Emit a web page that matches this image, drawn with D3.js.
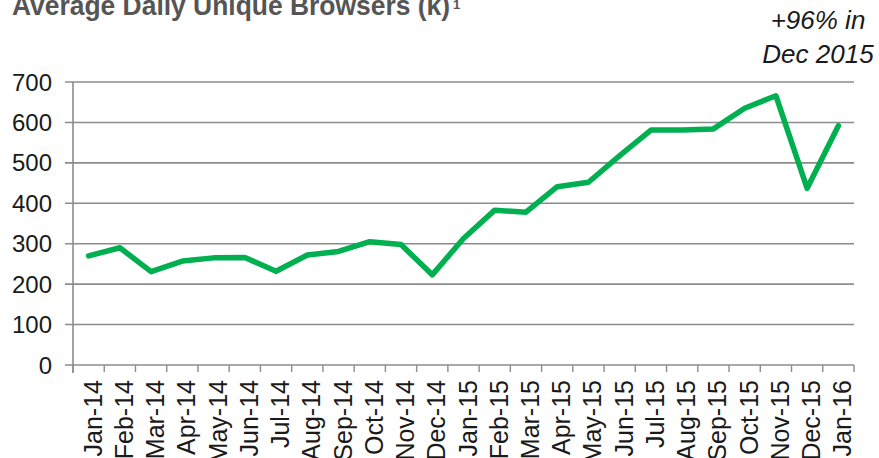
<!DOCTYPE html>
<html><head><meta charset="utf-8">
<script src="https://cdn.jsdelivr.net/npm/d3@7"></script>
<style>
body{margin:0;background:#fff;}
svg{display:block;font-family:"Liberation Sans",Arial,sans-serif;}
</style></head>
<body><svg id="c" width="879" height="458"></svg>
<script>
const months = ["Jan-14","Feb-14","Mar-14","Apr-14","May-14","Jun-14","Jul-14","Aug-14","Sep-14","Oct-14","Nov-14","Dec-14",
"Jan-15","Feb-15","Mar-15","Apr-15","May-15","Jun-15","Jul-15","Aug-15","Sep-15","Oct-15","Nov-15","Dec-15","Jan-16"];
const browsers = [270,290,231,257,265,266,232,272,281,305,298,223,313,383,378,441,452,518,581,581,584,635,666,437,592];
const yTicks = [0,100,200,300,400,500,600,700];
const titleText = "Average Daily Unique Browsers (k)";
const noteLines = ["+96% in","Dec 2015"];

(function(){
const svg = d3.select("#c");
const mL = 73, mR = 854, mT = 82, mB = 365;
const x = d3.scaleBand().domain(months).range([mL, mR]);
const y = d3.scaleLinear().domain([0,700]).range([mB, mT]);

// gridlines
svg.append("g").selectAll("line").data(yTicks).join("line")
  .attr("x1", mL-8).attr("x2", mR)
  .attr("y1", d=>y(d)).attr("y2", d=>y(d))
  .attr("stroke", "#8c8c8c").attr("stroke-width", 1.6);

// y axis labels
svg.append("g").selectAll("text").data(yTicks).join("text")
  .attr("x", 52).attr("y", d=>y(d)).attr("dy","0.36em")
  .attr("text-anchor","end").attr("font-size", 24).attr("fill","#1a1a1a")
  .text(d=>d);

// y axis line
svg.append("line").attr("x1", mL).attr("x2", mL).attr("y1", mT).attr("y2", mB+8)
  .attr("stroke","#8c8c8c").attr("stroke-width",1.6);

// x ticks at band boundaries
const bounds = months.map(m=>x(m)).concat([mR]);
svg.append("g").selectAll("line").data(bounds).join("line")
  .attr("x1", d=>d).attr("x2", d=>d).attr("y1", mB).attr("y2", mB+7)
  .attr("stroke","#8c8c8c").attr("stroke-width",1.4);

// x labels
svg.append("g").selectAll("text").data(months).join("text")
  .attr("transform", d=>`translate(${x(d)+x.bandwidth()/2},380) rotate(-90)`)
  .attr("dy",13).attr("text-anchor","end")
  .attr("font-size", 25).attr("fill","#1a1a1a")
  .text(d=>d);

// line
const line = d3.line().x((d,i)=>x(months[i])+x.bandwidth()/2).y(d=>y(d));
svg.append("path").datum(browsers).attr("d", line)
  .attr("fill","none").attr("stroke","#00b050").attr("stroke-width",5.5)
  .attr("stroke-linejoin","round").attr("stroke-linecap","round");

// title
svg.append("text").attr("x", 12).attr("y", 15)
  .attr("font-size", 27).attr("font-weight","bold").attr("fill","#555555")
  .attr("textLength", 438).attr("lengthAdjust","spacingAndGlyphs")
  .text(titleText);
svg.append("text").attr("x", 453).attr("y", 9)
  .attr("font-size", 13).attr("font-weight","bold").attr("fill","#555555").text("1");

// note
svg.append("g").selectAll("text").data(noteLines).join("text")
  .attr("x", 818).attr("y", (d,i)=>29 + i*34)
  .attr("text-anchor","middle").attr("font-size", 26).attr("font-style","italic")
  .attr("fill","#1a1a1a").text(d=>d);
})();
</script></body></html>
